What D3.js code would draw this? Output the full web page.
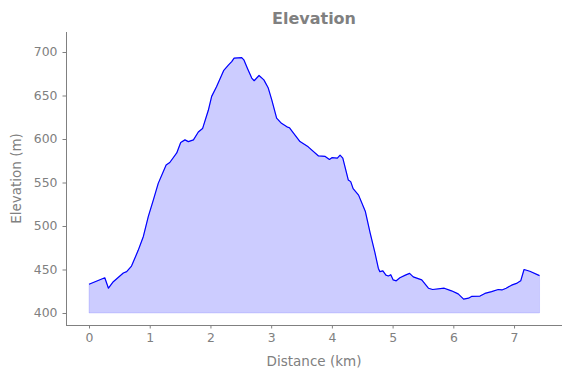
<!DOCTYPE html>
<html>
<head>
    <script src="https://d3js.org/d3.v7.min.js"></script>
    <style>
        body { margin: 0; background: #fff; }
        svg text { fill: #808080; font-family: "DejaVu Sans", sans-serif; }
        .axis path, .axis line { stroke: #808080; }
    </style>
    <title>Elevation</title>
</head>
<body>
    <svg width="571" height="378"></svg>
    <script>
        // distance along the track (km) and elevation (m)
        var distance = [0, 0.26, 0.32, 0.40, 0.565, 0.62, 0.70, 0.81, 0.895, 0.977, 1.06, 1.14, 1.27, 1.33, 1.445,
            1.51, 1.58, 1.636, 1.72, 1.80, 1.87, 1.965, 2.02, 2.10, 2.22, 2.295, 2.35, 2.39, 2.515, 2.55, 2.61,
            2.68, 2.72, 2.80, 2.88, 2.95, 3.01, 3.09, 3.17, 3.26, 3.30, 3.365, 3.475, 3.61, 3.78, 3.89, 3.96,
            4.0, 4.09, 4.135, 4.18, 4.27, 4.31, 4.35, 4.44, 4.55, 4.63, 4.71, 4.765, 4.79, 4.84, 4.89, 4.93,
            4.97, 5.01, 5.06, 5.12, 5.21, 5.28, 5.34, 5.48, 5.59, 5.66, 5.85, 5.97, 6.08, 6.17, 6.25, 6.30,
            6.44, 6.52, 6.63, 6.74, 6.80, 6.87, 6.96, 7.04, 7.11, 7.165, 7.26, 7.42];
        var elevation = [433, 440.5, 428.5, 436, 446, 447.5, 454, 472, 488, 511, 530, 549, 570, 573, 584,
            596, 599, 597, 599, 608, 612, 633, 649, 660, 679, 685, 689, 693, 693.5, 691, 681,
            670, 667, 673, 668, 659, 645, 624, 618, 614, 613, 607, 597, 591, 580.5, 580, 576.5,
            578.5, 578, 581.5, 578, 553, 551, 543, 535.5, 517, 492, 469, 451.5, 447.5, 448.5, 443.5, 442.5,
            444, 438, 437, 440.5, 443.5, 445.5, 441.5, 438, 428.5, 427, 428.5, 425.5, 422, 416, 417, 419,
            419.5, 422.5, 424.5, 427, 426.5, 428.5, 432, 434, 437, 450, 448, 443];
        var baseLevel = 400;
        var xTicks = [0, 1, 2, 3, 4, 5, 6, 7];
        var yTicks = [400, 450, 500, 550, 600, 650, 700];

        var data = distance.map(function (d, i) { return { km: d, ele: elevation[i] }; });

        var svg = d3.select("svg");
        var plotL = 66, plotR = 562, plotT = 32, plotB = 325;

        var x = d3.scaleLinear().domain([-0.379, 7.79]).range([plotL, plotR]);
        var y = d3.scaleLinear().domain([386.2, 723]).range([plotB, plotT]);

        // filled area under the profile
        svg.append("path")
            .datum(data)
            .attr("fill", "rgba(0,0,255,0.2)")
            .attr("stroke", "rgba(0,0,255,0.12)")
            .attr("stroke-width", 1)
            .attr("d", d3.area()
                .x(function (d) { return x(d.km); })
                .y0(y(baseLevel))
                .y1(function (d) { return y(d.ele); }));

        svg.append("path")
            .datum(data)
            .attr("fill", "none")
            .attr("stroke", "#0000ff")
            .attr("stroke-width", 1.2)
            .attr("stroke-linejoin", "round")
            .attr("d", d3.line()
                .x(function (d) { return x(d.km); })
                .y(function (d) { return y(d.ele); }));

        // axes (only left and bottom spines)
        var gx = svg.append("g")
            .attr("class", "axis")
            .attr("transform", "translate(0," + plotB + ")")
            .call(d3.axisBottom(x).tickValues(xTicks).tickSize(3.5).tickPadding(5).tickFormat(d3.format("d")).tickSizeOuter(0));
        gx.select(".domain").attr("d", "M" + plotL + ",0.5H" + plotR);

        var gy = svg.append("g")
            .attr("class", "axis")
            .attr("transform", "translate(" + plotL + ",0)")
            .call(d3.axisLeft(y).tickValues(yTicks).tickSize(3.5).tickPadding(5).tickFormat(d3.format("d")).tickSizeOuter(0));
        gy.select(".domain").attr("d", "M0.5," + plotT + "V" + plotB);

        svg.selectAll(".axis text")
            .attr("fill", "#808080")
            .style("font-size", "12.4px");

        svg.append("text")
            .attr("x", (plotL + plotR) / 2)
            .attr("y", 366)
            .attr("text-anchor", "middle")
            .style("font-size", "13.5px")
            .text("Distance (km)");

        svg.append("text")
            .attr("transform", "translate(21," + ((plotT + plotB) / 2) + ") rotate(-90)")
            .attr("text-anchor", "middle")
            .style("font-size", "13.5px")
            .text("Elevation (m)");

        svg.append("text")
            .attr("x", (plotL + plotR) / 2)
            .attr("y", 24)
            .attr("text-anchor", "middle")
            .style("font-size", "16px")
            .style("font-weight", "bold")
            .text("Elevation");
    </script>
</body>
</html>
